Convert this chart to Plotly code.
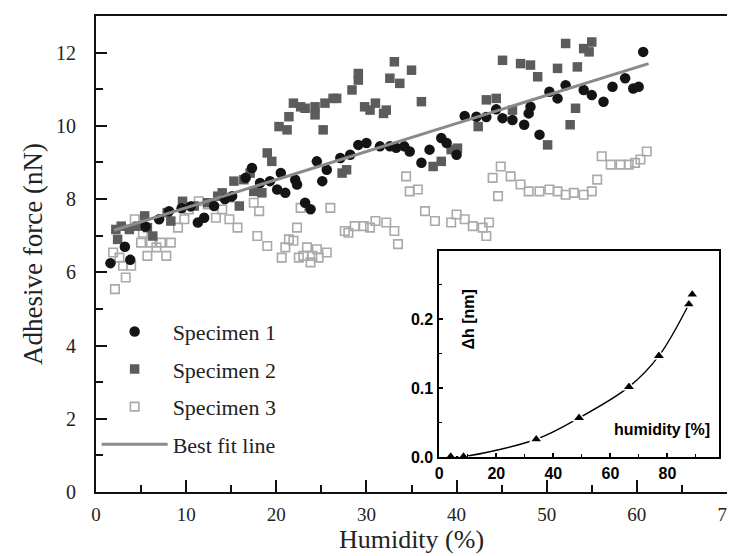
import plotly.graph_objects as go

# ---------------- data ----------------
s1_x = [1.6, 3.2, 3.8, 5.5, 7.0, 8.1, 9.5, 10.5, 11.3, 12.0, 13.1, 14.3, 15.1, 16.6, 17.3, 18.2, 19.3, 20.1,
        20.5, 21.0, 22.1, 22.3, 23.2, 23.8, 24.5, 25.1, 25.6, 27.1, 28.2, 29.1, 30.0, 31.5, 32.6, 33.3, 34.2,
        34.8, 36.1, 37.0, 38.3, 38.9, 40.0, 40.9, 42.2, 43.3, 44.4, 45.1, 46.2, 47.5, 48.0, 48.2, 49.2, 50.3,
        51.2, 52.1, 54.1, 55.0, 56.3, 57.3, 58.7, 59.6, 60.2, 60.7]
s1_y = [6.25, 6.70, 6.34, 7.25, 7.45, 7.67, 7.75, 7.80, 7.36, 7.49, 7.81, 8.00, 8.08, 8.58, 8.85, 8.44, 8.49, 8.26,
        8.71, 8.17, 8.53, 8.40, 7.90, 7.72, 9.03, 8.49, 8.80, 9.12, 9.21, 9.48, 9.53, 9.44, 9.44, 9.40, 9.44,
        9.30, 8.99, 9.35, 9.67, 9.53, 9.21, 10.27, 10.25, 10.24, 10.45, 10.21, 10.16, 10.03, 10.34, 10.52, 9.76, 10.93,
        10.75, 11.11, 10.98, 10.84, 10.66, 11.07, 11.30, 11.02, 11.07, 12.02]

s2_x = [2.2, 2.4, 2.8, 3.7, 4.6, 5.4, 5.7, 6.3, 7.9, 8.3, 9.6, 10.9, 12.4, 13.5, 14.0, 14.8, 15.3, 15.9, 16.4,
        17.1, 17.5, 18.4, 19.0, 19.5, 20.3, 21.2, 21.4, 21.9, 22.7, 23.2, 24.3, 24.3, 25.2, 25.4, 26.3, 26.7,
        27.3, 27.8, 28.4, 29.1, 29.1, 29.8, 30.4, 31.0, 31.9, 32.2, 32.6, 33.1, 33.7, 35.0, 36.1, 37.4, 38.3,
        39.4, 40.1, 42.4, 43.3, 44.4, 45.1, 46.2, 47.1, 48.2, 49.0, 50.1, 51.2, 52.1, 52.6, 53.2, 53.4, 54.1,
        54.7, 55.0]
s2_y = [7.17, 6.90, 7.26, 7.17, 7.26, 7.54, 7.22, 6.99, 7.63, 7.40, 7.94, 7.81, 7.90, 8.08, 8.17, 8.04, 8.49, 7.81, 8.53,
        8.71, 8.21, 8.17, 9.26, 9.03, 9.98, 9.89, 10.25, 10.62, 10.52, 10.48, 10.52, 10.30, 9.89, 10.62, 10.75, 10.75,
        8.71, 8.80, 10.98, 11.43, 11.25, 10.52, 10.43, 10.62, 10.34, 10.43, 11.30, 11.75, 11.16, 11.52, 10.66, 8.89, 9.03,
        9.35, 9.39, 9.98, 10.71, 10.75, 11.79, 10.43, 11.70, 11.66, 11.34, 9.48, 11.57, 12.25, 10.03, 10.48, 11.61, 12.11,
        12.02, 12.29]

s3_x = [1.9, 2.1, 2.6, 3.0, 3.3, 3.9, 4.3, 5.0, 5.2, 5.7, 6.1, 6.7, 7.2, 7.8, 8.3, 9.1, 9.8, 10.3, 11.4, 12.4,
        13.3, 14.0, 14.8, 15.7, 17.5, 18.1, 17.9, 19.0, 20.6, 21.0, 21.4, 21.9, 22.3, 22.5, 22.7, 23.0, 23.4,
        23.8, 24.0, 24.5, 24.7, 25.6, 26.0, 27.6, 28.0, 28.7, 29.7, 30.4, 31.0, 32.2, 33.1, 33.5, 34.4, 34.8,
        35.7, 36.5, 37.6, 39.4, 40.0, 40.9, 41.8, 42.9, 43.3, 43.6, 44.0, 44.6, 44.9, 46.0, 47.1, 48.0, 49.2,
        50.3, 51.2, 52.1, 53.0, 54.1, 55.0, 55.6, 56.1, 57.1, 58.2, 59.1, 59.8, 60.4, 61.1]
s3_y = [6.54, 5.54, 6.40, 6.18, 5.86, 6.18, 7.45, 6.81, 7.08, 6.45, 6.81, 6.68, 6.81, 6.45, 6.81, 7.22, 7.45, 7.72, 7.94, 7.85,
        7.49, 7.72, 7.45, 7.22, 7.90, 7.67, 6.99, 6.72, 6.40, 6.68, 6.90, 6.86, 7.22, 6.40, 7.76, 6.45, 6.68,
        6.27, 6.45, 6.63, 6.40, 6.54, 7.76, 7.13, 7.08, 7.26, 7.26, 7.22, 7.40, 7.36, 7.13, 6.77, 8.62, 8.21,
        8.26, 7.67, 7.40, 7.36, 7.58, 7.45, 7.26, 7.22, 6.99, 7.36, 8.58, 8.08, 8.89, 8.62, 8.40, 8.21, 8.21,
        8.26, 8.21, 8.12, 8.17, 8.12, 8.21, 8.53, 9.17, 8.94, 8.94, 8.94, 8.99, 9.08, 9.30]

fit_x = [2.0, 61.3]
fit_y = [7.15, 11.70]

inset_x = [4.0, 8.5, 34.0, 49.0, 66.5, 77.0, 87.5, 88.7]
inset_y = [0.001, 0.001, 0.026, 0.057, 0.102, 0.147, 0.222, 0.236]

x_ticks = [0, 10, 20, 30, 40, 50, 60, 70]
y_ticks = [0, 2, 4, 6, 8, 10, 12]

SERIF = "Liberation Serif, Times New Roman, serif"
SANS = "Liberation Sans, Arial, sans-serif"

fig = go.Figure()

fig.add_trace(go.Scatter(x=s3_x, y=s3_y, mode="markers", name="Specimen 3", legendrank=3, legendgroup="c",
                         marker=dict(symbol="square-open", size=8.5, color="#a9a9a9",
                                     line=dict(width=1.6, color="#a9a9a9"))))
fig.add_trace(go.Scatter(x=s2_x, y=s2_y, mode="markers", name="Specimen 2", legendrank=2, legendgroup="b",
                         marker=dict(symbol="square", size=9.5, color="#5c5c5c")))
fig.add_trace(go.Scatter(x=s1_x, y=s1_y, mode="markers", name="Specimen 1", legendrank=1, legendgroup="a",
                         marker=dict(symbol="circle", size=10.5, color="#141414")))
fig.add_trace(go.Scatter(x=fit_x, y=fit_y, mode="lines", name="Best fit line", legendrank=4, legendgroup="d",
                         line=dict(color="#8a8a8a", width=3)))

# inset
fig.add_trace(go.Scatter(x=inset_x[:7], y=inset_y[:7], mode="lines", showlegend=False,
                         line=dict(color="black", width=1.4, shape="spline"), xaxis="x2", yaxis="y2"))
fig.add_trace(go.Scatter(x=inset_x, y=inset_y, mode="markers", showlegend=False,
                         marker=dict(symbol="triangle-up", size=11, color="black",
                                     line=dict(color="white", width=1.5)),
                         xaxis="x2", yaxis="y2"))

fig.update_layout(
    width=735, height=556,
    margin=dict(l=88, r=15, t=6, b=72),
    paper_bgcolor="white", plot_bgcolor="white",
    font=dict(family=SERIF, color="#1a1a1a"),
    xaxis=dict(range=[0, 70], tickvals=x_ticks, ticks="inside", ticklen=12, tickwidth=2, tickcolor="#111",
               minor=dict(dtick=5, ticks="inside", ticklen=7, tickwidth=2, tickcolor="#111"),
               showline=True, linewidth=2, linecolor="#111", mirror=True, showgrid=False, zeroline=False,
               tickfont=dict(family=SERIF, size=19, color="#222"), ticklabelstandoff=4,
               title=dict(text="Humidity (%)", font=dict(family=SERIF, size=26, color="#222"), standoff=0)),
    yaxis=dict(range=[0, 13], tickvals=y_ticks, ticks="inside", ticklen=11, tickwidth=2, tickcolor="#111",
               minor=dict(dtick=1, ticks="inside", ticklen=7, tickwidth=2, tickcolor="#111"),
               showline=True, linewidth=2, linecolor="#111", mirror=True, showgrid=False, zeroline=False,
               tickfont=dict(family=SERIF, size=20, color="#222"), ticklabelstandoff=14,
               title=dict(text="Adhesive force (nN)", font=dict(family=SERIF, size=27, color="#222"), standoff=6)),
    xaxis2=dict(domain=[0.544, 0.987], anchor="y2", range=[0, 98], tickvals=[0, 20, 40, 60, 80],
                ticks="inside", ticklen=4, tickwidth=1.5, tickcolor="black",
                minor=dict(dtick=10, ticks="inside", ticklen=3, tickwidth=1.2, tickcolor="black"),
                showline=True, linewidth=1.8, linecolor="black", mirror=True, showgrid=False, zeroline=False,
                tickfont=dict(family=SANS, size=16, color="black", weight="bold"), ticklabelstandoff=1),
    yaxis2=dict(domain=[0.0732, 0.5073], anchor="x2", range=[0, 0.3], tickvals=[0.0, 0.1, 0.2], tickformat=".1f",
                ticks="inside", ticklen=4, tickwidth=1.5, tickcolor="black",
                minor=dict(dtick=0.05, ticks="inside", ticklen=3, tickwidth=1.2, tickcolor="black"),
                showline=True, linewidth=1.8, linecolor="black", mirror=True, showgrid=False, zeroline=False,
                tickfont=dict(family=SANS, size=16, color="black", weight="bold"), ticklabelstandoff=1),
    legend=dict(x=0.001, y=0.381, xanchor="left", yanchor="top", bgcolor="rgba(0,0,0,0)",
                font=dict(family=SERIF, size=22, color="#222"), itemwidth=66, tracegroupgap=6,
                traceorder="grouped"),
    annotations=[
        dict(text="Δh [nm]", xref="x2 domain", yref="y2 domain", x=0.068, y=0.82, textangle=-90,
             showarrow=False, font=dict(family=SANS, size=16, color="black", weight="bold")),
        dict(text="humidity [%]", xref="x2 domain", yref="y2 domain", x=0.975, y=0.082, xanchor="right",
             showarrow=False, font=dict(family=SANS, size=16, color="black", weight="bold")),
    ],
)

fig.write_html("out.html")
